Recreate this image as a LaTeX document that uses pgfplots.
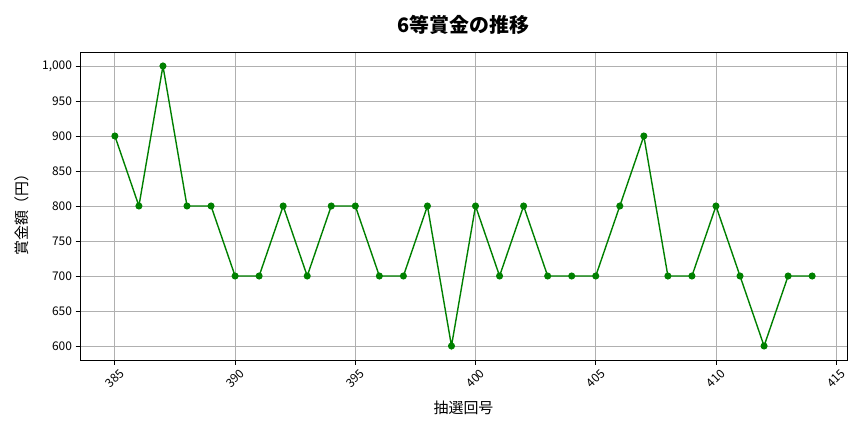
\documentclass[border=0pt]{standalone}
\usepackage{fontspec}
\setmainfont{Noto Sans CJK JP}
\usepackage{pgfplots}
\pgfplotsset{compat=1.18}
\definecolor{mplgreen}{HTML}{008000}
\definecolor{gridc}{HTML}{B0B0B0}
\begin{document}
\begin{tikzpicture}[x=1bp,y=1bp]
\path[use as bounding box] (0,0) rectangle (864,432);
\begin{axis}[
  at={(80bp,72bp)}, anchor=south west,
  scale only axis, width=767bp, height=308bp,
  xmin=383.55, xmax=415.45, ymin=580, ymax=1020,
  xtick={385,390,...,415}, ytick={600,650,...,1000},
  /pgf/number format/assume math mode=true,
  /pgf/number format/1000 sep={,},
  x tick label style={/pgf/number format/1000 sep={}},
  tick align=outside, major tick length=4.5bp,
  tick style={black, line width=0.8bp},
  xtick pos=bottom, ytick pos=left,
  grid=major, grid style={gridc, line width=0.8bp},
  axis line style={black, line width=0.9bp},
  ticklabel style={font=\fontsize{12}{14}\selectfont},
  xticklabel style={yshift=-14bp, rotate=45, anchor=center},
  title={6等賞金の推移},
  title style={at={([yshift=21bp]axis description cs:0.5,1)}, anchor=center, font=\fontsize{20}{24}\selectfont\bfseries},
  xlabel={抽選回号},
  xlabel style={at={([yshift=-48bp]axis description cs:0.5,0)}, anchor=center, font=\fontsize{15}{17}\selectfont},
  ylabel={賞金額（円）},
  ylabel style={at={([xshift=-58bp,yshift=-5bp]axis description cs:0,0.5)}, anchor=center, font=\fontsize{15}{17}\selectfont},
]
\addplot[mplgreen, line width=1.4bp, mark=*, mark size=2.8bp, mark options={fill=mplgreen, draw=mplgreen}] coordinates {
(385,900)(386,800)(387,1000)(388,800)(389,800)(390,700)(391,700)(392,800)(393,700)(394,800)
(395,800)(396,700)(397,700)(398,800)(399,600)(400,800)(401,700)(402,800)(403,700)(404,700)
(405,700)(406,800)(407,900)(408,700)(409,700)(410,800)(411,700)(412,600)(413,700)(414,700)
};
\end{axis}
\end{tikzpicture}
\end{document}
